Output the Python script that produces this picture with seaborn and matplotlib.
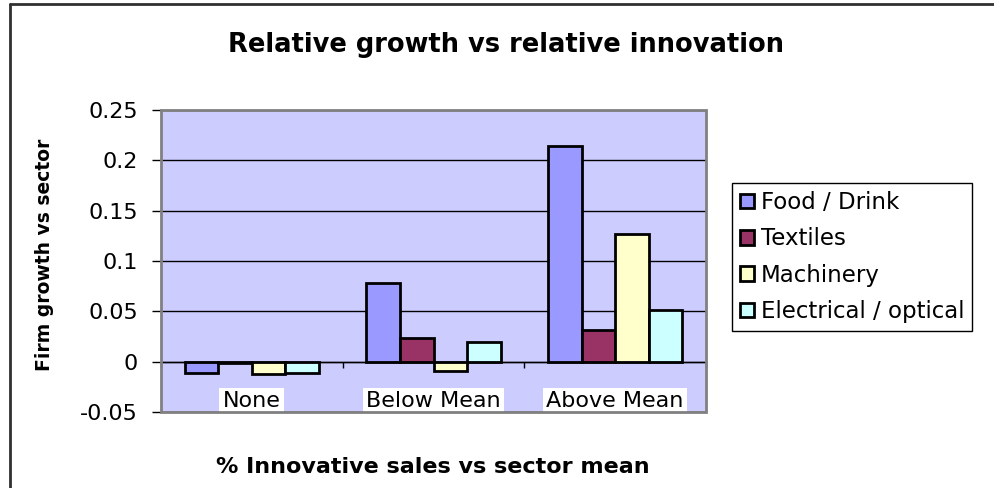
import matplotlib
matplotlib.use("Agg")
import matplotlib.pyplot as plt
import matplotlib.transforms as mtransforms
import pandas as pd
import seaborn as sns
from matplotlib.lines import Line2D
from matplotlib.patches import Patch, Rectangle

# Innovation categories and sector series
categories = ["None", "Below Mean", "Above Mean"]
sectors = ["Food / Drink", "Textiles", "Machinery", "Electrical / optical"]
food_drink = [-0.011, 0.078, 0.214]
textiles = [-0.001, 0.024, 0.031]
machinery = [-0.012, -0.009, 0.127]
electrical_optical = [-0.011, 0.020, 0.051]
sector_colors = ["#9999FF", "#993366", "#FFFFCC", "#CCFFFF"]

y_ticks = [-0.05, 0, 0.05, 0.1, 0.15, 0.2, 0.25]
y_tick_labels = ["-0.05", "0", "0.05", "0.1", "0.15", "0.2", "0.25"]

series = [food_drink, textiles, machinery, electrical_optical]
df = pd.DataFrame(
    [(cat, sec, vals[i]) for sec, vals in zip(sectors, series) for i, cat in enumerate(categories)],
    columns=["category", "sector", "growth"],
)

sns.set_style("white")
plt.rcParams["font.family"] = ["DejaVu Sans"]
plt.rcParams["text.color"] = "black"
plt.rcParams["axes.labelcolor"] = "black"
plt.rcParams["xtick.color"] = "black"
plt.rcParams["ytick.color"] = "black"

fig = plt.figure(figsize=(9.94, 4.88), dpi=100)
ax = fig.add_axes([161 / 994, 1 - 412 / 488, (706 - 161) / 994, (412 - 110) / 488])
ax.set_facecolor("#CCCCFF")

sns.barplot(
    data=df, x="category", y="growth", hue="sector",
    order=categories, hue_order=sectors,
    palette=sector_colors, saturation=1, width=0.74,
    edgecolor="black", linewidth=2, legend=False, ax=ax,
)

ax.set_ylim(-0.05, 0.25)
ax.set_xlim(-0.5, 2.5)
ax.set_axisbelow(True)
ax.set_yticks(y_ticks)
ax.set_yticklabels(y_tick_labels)
ax.yaxis.grid(True, color="black", linewidth=1)
ax.tick_params(axis="y", direction="out", length=6.5, width=1, color="black",
               pad=10, left=True, labelsize=16, labelcolor="black")

# category boundaries as small ticks on the zero line
ax.set_xticks([-0.5, 0.5, 1.5, 2.5])
ax.set_xticklabels([])
ax.tick_params(axis="x", which="major", direction="out", length=4, width=1,
               color="black", bottom=True)

# category names inside the plot, on white boxes near the lower edge
name_tf = mtransforms.blended_transform_factory(ax.transData, ax.transAxes)
for i, name in enumerate(categories):
    ax.text(i, 0.002, name, transform=name_tf, ha="center", va="bottom",
            fontsize=16, zorder=4,
            bbox=dict(facecolor="white", edgecolor="none", pad=2.5))

ax.set_xlabel("")
ax.set_ylabel("")

for side in ["left", "top", "right"]:
    ax.spines[side].set_visible(False)
ax.spines["bottom"].set_position(("data", 0))
ax.spines["bottom"].set_color("black")
ax.spines["bottom"].set_linewidth(1)

ax.add_patch(Rectangle((0, 0), 1, 1, transform=ax.transAxes, fill=False,
                       edgecolor="#808080", linewidth=2, zorder=5, clip_on=False))

handles = [Patch(facecolor=c, edgecolor="black", linewidth=2) for c in sector_colors]
leg = ax.legend(
    handles, sectors, loc="center left", bbox_to_anchor=(732 / 994, 1 - 257 / 488),
    bbox_transform=fig.transFigure, fontsize=16.5, frameon=True, fancybox=False,
    framealpha=1, edgecolor="black", handlelength=0.6, handleheight=0.6,
    handletextpad=0.3, labelspacing=0.58, borderpad=0.35, borderaxespad=0,
)
leg.get_frame().set_linewidth(1)

fig.text(506 / 994, 1 - 45 / 488, "Relative growth vs relative innovation",
         ha="center", va="center", fontsize=18.5, fontweight="bold")
fig.text(45 / 994, 1 - 255 / 488, "Firm growth vs sector", rotation=90,
         ha="center", va="center", fontsize=13.5, fontweight="bold")
fig.text(433 / 994, 1 - 467 / 488, "% Innovative sales vs sector mean",
         ha="center", va="center", fontsize=16, fontweight="bold")

# outer chart border
fig.add_artist(Line2D([10 / 994, 10 / 994], [0, 1 - 4 / 488], color="#303030", linewidth=2))
fig.add_artist(Line2D([10 / 994, 1], [1 - 4 / 488, 1 - 4 / 488], color="#303030", linewidth=2))

fig.savefig("out.png", dpi=100)
